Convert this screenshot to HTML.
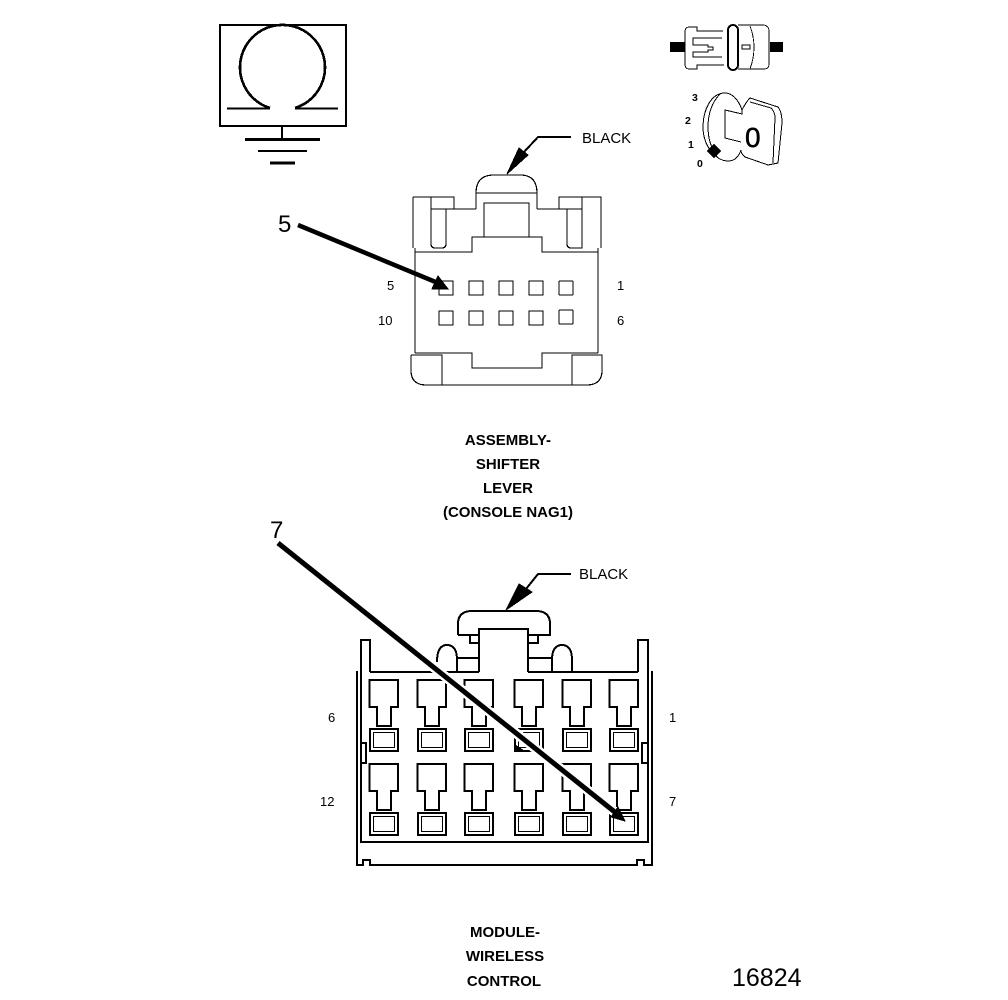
<!DOCTYPE html>
<html><head><meta charset="utf-8"><style>
html,body{margin:0;padding:0;background:#fff;width:1008px;height:1000px;overflow:hidden}
svg{display:block;shape-rendering:crispEdges}
text{font-family:"Liberation Sans",sans-serif;fill:#000}
.t{font-size:15px;font-weight:bold;text-anchor:middle}
.n{font-size:13px}
</style></head><body>
<svg width="1008" height="1000" viewBox="0 0 1008 1000" fill="none" stroke="#000" stroke-width="1.2">
<defs>
<g id="term"><path d="M369.500 680H398V707H391V726H377V707H369.500Z" stroke-width="2"/><rect x="370" y="729" width="28" height="22" stroke-width="2.400"/><rect x="373.500" y="732.500" width="21" height="15" stroke-width="1.200"/></g>
</defs>
<!-- top-left schematic -->
<g>
<rect x="220" y="25" width="126" height="101" stroke-width="2"/>
<path d="M270 108A42.500 42.500 0 1 1 295 108" stroke-width="2.600"/>
<path d="M227 108.500H270M295 108.500H338" stroke-width="1.600"/>
<path d="M282 126V139" stroke-width="2"/>
<path d="M245 139.500H320" stroke-width="3"/>
<path d="M258 151H307" stroke-width="2"/>
<path d="M270 163H295" stroke-width="3"/>
</g>
<!-- inline connector -->
<rect x="670" y="42" width="15" height="10" fill="#000" stroke="none"/>
<rect x="770" y="42" width="13" height="10" fill="#000" stroke="none"/>
<path d="M723 31H697V27H689Q685 27 685 32V64Q685 69 689 69H697V65H724" stroke-width=".9"/>
<path d="M722 38H693V45H708V47H713V50H708V52H693V57H722" stroke-width=".9"/>
<rect x="728" y="25" width="10" height="45" rx="5" stroke-width="2"/>
<path d="M738 25H764Q769 26 769 31V64Q769 69 764 69H738M750 26Q758 47 750 69" stroke-width=".9"/>
<rect x="742" y="45" width="8" height="4" stroke-width=".9"/>
<!-- key -->
<path d="M742 110C738 98 731 93 725 93C711 93 703 110 703 127C703 146 716 161 728 161C735 161 739 156 741 150" stroke-width="1"/>
<path d="M720 94C712 102 708 114 708 127C708 140 712 150 718 158" stroke-width="1"/>
<path d="M742 110V114L725 110V138L741 142" stroke-width="1"/>
<path d="M742 110Q746 102 750 98L778 107Q782 112 782 123L778 163L768 165L745 157Q741 154 741 150" stroke-width="1"/>
<path d="M750 102L771 108Q775 112 775 118L773 163" stroke-width="1"/>
<rect x="709" y="146" width="10" height="10" fill="#000" stroke="none" transform="rotate(45 714 151)"/>
<g stroke="none">
<text x="692" y="101" font-size="10.500" font-weight="bold">3</text>
<text x="685" y="124" font-size="10.500" font-weight="bold">2</text>
<text x="688" y="148" font-size="10.500" font-weight="bold">1</text>
<text x="697" y="167" font-size="10.500" font-weight="bold">0</text>
<text x="745" y="147" font-size="28" stroke="#000" stroke-width=".5">0</text>
</g>
<!-- shifter connector -->
<g>
<path d="M476 193Q476 176 492 175H522Q537 176 537 193M476 193H537M476 193V209M537 193V209"/>
<path d="M413 197H454V209H476M537 209H559V197H601V248M413 197V248"/>
<path d="M431 197V244Q431 248 435 248H442Q446 248 446 244V209M431 209H454"/>
<path d="M582 197V248H571Q567 248 567 244V209M559 209H582"/>
<path d="M484 237V203H529V237"/>
<path d="M415 248V353M598 248V353M415 252H472V237H542V252H598"/>
<path d="M415 353H472V368H542V353H598"/>
<path d="M411 355V372Q412 385 426 385H587Q601 385 602 372V355H572V385M411 355H442V385"/>
<g>
<rect x="439" y="281" width="14" height="14"/><rect x="469" y="281" width="14" height="14"/><rect x="499" y="281" width="14" height="14"/><rect x="529" y="281" width="14" height="14"/><rect x="559" y="281" width="14" height="14" rx="1"/>
<rect x="439" y="311" width="14" height="14"/><rect x="469" y="311" width="14" height="14"/><rect x="499" y="311" width="14" height="14"/><rect x="529" y="311" width="14" height="14"/><rect x="559" y="310" width="14" height="14" rx="1"/>
</g>
<path d="M298 225L438 283" stroke-width="4.500" style="shape-rendering:auto"/>
<path d="M448 289L438 276L432 289Z" fill="#000" stroke-width="1"/>
<path d="M507 174L519 148L528 155Z" fill="#000" stroke-width="1"/>
<path d="M524 152L538 137H571" stroke-width="2"/>
</g>
<!-- wireless control connector -->
<g stroke-width="2">
<path d="M458 635V624Q458 611 472 611H536Q550 611 550 624V635H528M458 635H479" />
<path d="M479 672V629H528V672"/>
<path d="M470 635V643H479M538 635V643H528"/>
<path d="M437 662Q437 645 447 645Q457 645 457 660V672M457 658H479"/>
<path d="M552 672V660Q552 645 562 645Q572 645 572 660V672M528 658H552"/>
<path d="M370 672V640H361V842H648V640H638V672M370 672H479M528 672H638"/>
<path d="M357 671V865H363V860H370V865H637V860H644V865H652V671"/>
<path d="M361 743H366V763H361M648 743H642V763H648"/>
<use href="#term"/><use href="#term" x="48"/><use href="#term" x="95"/><use href="#term" x="145"/><use href="#term" x="193"/><use href="#term" x="240"/>
<g transform="translate(0 84)"><use href="#term"/><use href="#term" x="48"/><use href="#term" x="95"/><use href="#term" x="145"/><use href="#term" x="193"/><use href="#term" x="240"/></g>
<path d="M278 543L616 813" stroke="#fff" stroke-width="10"/>
<path d="M278 543L616 813" stroke-width="5" style="shape-rendering:auto"/>
<path d="M515 745L524 751H515Z" fill="#000" stroke-width="1"/>
<path d="M625 821L618 807L611 817Z" fill="#000" stroke-width="1"/>
<path d="M506 610L519 584L532 592Z" fill="#000" stroke-width="1"/>
<path d="M526 589L538 574H571" stroke-width="2"/>
</g>
<!-- text -->
<g stroke="none">
<text x="582" y="143" font-size="15">BLACK</text>
<text x="579" y="579" font-size="15">BLACK</text>
<text x="278" y="232" font-size="24">5</text>
<text x="270" y="538" font-size="24">7</text>
<text class="n" x="387" y="290">5</text>
<text class="n" x="617" y="290">1</text>
<text class="n" x="378" y="325">10</text>
<text class="n" x="617" y="325">6</text>
<text class="n" x="328" y="722">6</text>
<text class="n" x="669" y="722">1</text>
<text class="n" x="320" y="806">12</text>
<text class="n" x="669" y="806">7</text>
<text class="t" x="508" y="445">ASSEMBLY-</text>
<text class="t" x="508" y="469">SHIFTER</text>
<text class="t" x="508" y="493">LEVER</text>
<text class="t" x="508" y="517">(CONSOLE NAG1)</text>
<text class="t" x="505" y="937">MODULE-</text>
<text class="t" x="505" y="961">WIRELESS</text>
<text class="t" x="504" y="986">CONTROL</text>
<text x="732" y="986" font-size="25">16824</text>
</g>
</svg>
</body></html>
